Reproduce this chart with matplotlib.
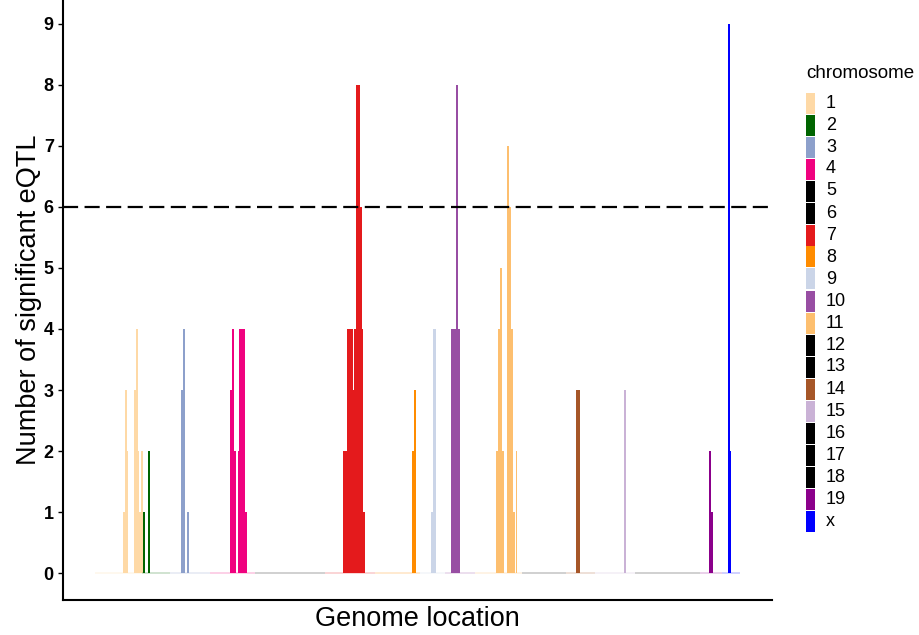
import matplotlib.pyplot as plt
from matplotlib.patches import Rectangle

plt.rcParams['font.family'] = ['Liberation Sans', 'DejaVu Sans']

# chromosome names and colours
chroms = ['1', '2', '3', '4', '5', '6', '7', '8', '9', '10', '11', '12', '13',
          '14', '15', '16', '17', '18', '19', 'x']
chrom_colors = ['#FED9A6', '#006400', '#8DA0CB', '#F0027F', '#000000', '#000000',
                '#E41A1C', '#FF8C00', '#CBD5E8', '#984EA3', '#FDBF6F', '#000000',
                '#000000', '#A65628', '#CAB2D6', '#000000', '#000000', '#000000',
                '#8B008B', '#0000FF']
# start of every chromosome on the genome axis (arbitrary units), plus genome end
chrom_start = [95, 142, 170, 210, 255, 290, 325, 375, 420, 445, 475, 522, 545,
               566, 595, 635, 662, 685, 700, 722]
genome_end = 740

# bins with eQTL: chromosome, bin start, bin width, count
bin_chrom = ['1', '1', '1', '1', '1', '1', '1', '1',
             '2', '2',
             '3', '3', '3',
             '4', '4', '4', '4', '4', '4',
             '7', '7', '7', '7', '7', '7', '7', '7',
             '8', '8',
             '9', '9',
             '10', '10', '10',
             '11', '11', '11', '11', '11', '11', '11', '11', '11',
             '14', '15', '19', '19', 'x', 'x']
bin_start = [123, 125, 127, 134, 136, 138, 139.3, 141,
             143, 148,
             181, 183, 187,
             230, 232, 234, 238, 239, 245,
             343, 347, 353, 354, 356, 360, 362, 363,
             412, 414,
             431, 433,
             451, 456, 458,
             496, 498, 500, 502, 507, 509, 511, 513, 516,
             576, 624, 709, 711, 728, 730]
bin_width = [2, 2, 1.3, 2, 2, 1.3, 1.7, 2,
             2, 2,
             2, 2, 2.5,
             2, 2, 2, 1, 6, 2,
             4, 6, 1, 2, 4, 2, 1, 2,
             2, 2,
             2, 3,
             5, 2, 2,
             2, 2, 2, 2, 2, 2, 2, 2, 1.5,
             4, 2, 2, 2, 2, 1.3]
bin_count = [1, 3, 2, 3, 4, 2, 1, 2,
             1, 2,
             3, 4, 1,
             3, 4, 2, 2, 4, 1,
             2, 4, 3, 4, 8, 6, 4, 1,
             2, 3,
             1, 4,
             4, 8, 4,
             2, 4, 5, 2, 7, 6, 4, 1, 2,
             3, 3, 2, 1, 9, 2]
threshold = 6

W, H = 919, 635
fig = plt.figure(figsize=(W / 100, H / 100), dpi=100)
ax = fig.add_axes([63 / W, 35 / H, (772 - 63) / W, 600 / H])

color_of = dict(zip(chroms, chrom_colors))

# faint zero line for every chromosome
ends = chrom_start[1:] + [genome_end]
for c, s, e in zip(chrom_colors, chrom_start, ends):
    ax.plot([s, e], [0, 0], color=c, lw=1.3, alpha=0.2, solid_capstyle='butt')

ax.bar(bin_start, bin_count, width=bin_width, align='edge',
       color=[color_of[c] for c in bin_chrom], linewidth=0)

ax.axhline(threshold, color='black', lw=1.6, linestyle=(0, (6.8, 2.9)))

ax.set_xlim(63, 772)
ax.set_ylim(-0.44, 9.39)
ax.set_xticks([])
ax.set_yticks(range(10))
ax.tick_params(axis='y', length=3.6, width=1, labelsize=13, pad=3)
for t in ax.get_yticklabels():
    t.set_fontweight('bold')
for s in ['top', 'right']:
    ax.spines[s].set_visible(False)
for s in ['left', 'bottom']:
    ax.spines[s].set_linewidth(1.5)
ax.set_ylabel('Number of significant eQTL', fontsize=19.5, labelpad=1)
ax.set_xlabel('Genome location', fontsize=19.5, labelpad=4)

# legend
fig.text(806 / W, 1 - 74 / H, 'chromosome', fontsize=13.5, va='center', ha='left')
for i, (name, c) in enumerate(zip(chroms, chrom_colors)):
    yc = 103 + 22 * i
    fig.patches.append(Rectangle((806 / W, 1 - (yc + 10.5) / H), 9 / W, 21 / H,
                                 transform=fig.transFigure, color=c, lw=0))
    fig.text(826 / W, 1 - yc / H, name, fontsize=13, va='center', ha='left')

fig.savefig('out.png', dpi=100)
